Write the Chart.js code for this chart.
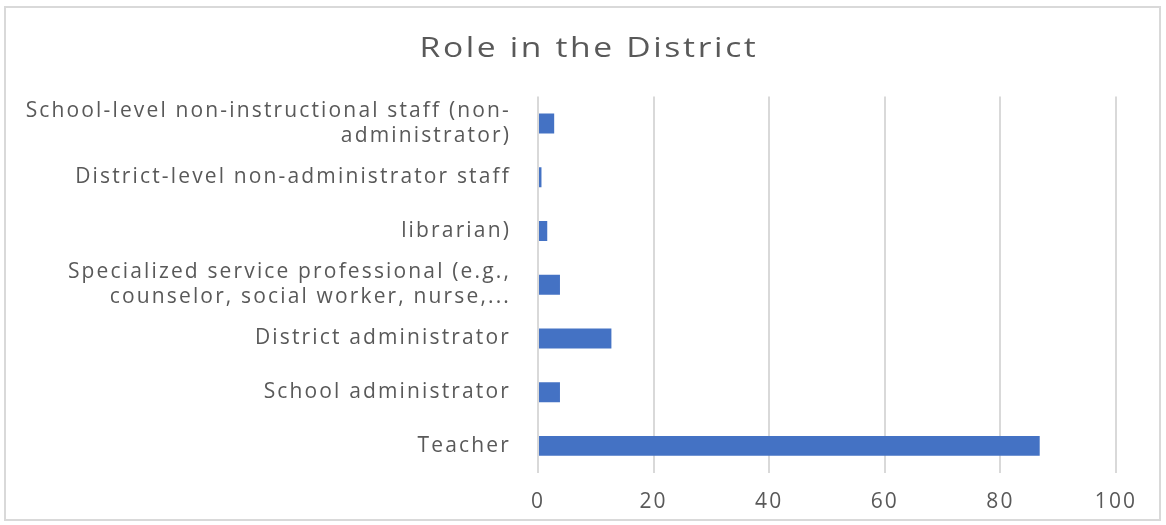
<!DOCTYPE html>
<html>
<head>
<meta charset="utf-8">
<script src="https://cdn.jsdelivr.net/npm/chart.js@4.4.0/dist/chart.umd.min.js"></script>
<style>
  html, body { margin: 0; padding: 0; background: #fff; }
  #wrap { width: 1166px; height: 525px; position: relative; }
</style>
</head>
<body>
<div id="wrap"><canvas id="chart" width="1166" height="525"></canvas></div>
<script>
// categories, top to bottom as shown
const roles = [
  ['School-level non-instructional staff (non-', 'administrator)'],
  'District-level non-administrator staff',
  'librarian)',
  ['Specialized service professional (e.g.,', 'counselor, social worker, nurse,...'],
  'District administrator',
  'School administrator',
  'Teacher'
];
const counts = [2.8, 0.6, 1.6, 3.8, 12.7, 3.8, 86.8];
const xTicks = [0, 20, 40, 60, 80, 100];

const textGrey = '#595959';
const fontFamily = '"Open Sans", "DejaVu Sans", sans-serif';

// the original Excel text is set wide: space the letters, stretch the title
const spacingPlugin = {
  id: 'spacing',
  beforeUpdate(chart) { chart.ctx.letterSpacing = '2.15px'; },
  beforeDraw(chart) {
    chart.ctx.letterSpacing = '2.15px';
    const tb = chart.titleBlock;
    if (tb && !tb._wide) {
      const orig = tb.draw.bind(tb);
      tb.draw = function () {
        const c = this.ctx;
        const mid = (this.left + this.right) / 2;
        c.save();
        c.letterSpacing = '2.2px';
        c.translate(mid + 26, 0);
        c.scale(1.2, 1);
        c.translate(-mid, 0);
        orig();
        c.restore();
      };
      tb._wide = true;
    }
  }
};

// light grey frame around the chart
const framePlugin = {
  id: 'frame',
  afterDraw(chart) {
    const ctx = chart.ctx;
    ctx.save();
    ctx.strokeStyle = '#d9d9d9';
    ctx.lineWidth = 2;
    ctx.strokeRect(5, 7, 1155, 513);
    ctx.restore();
  }
};

new Chart(document.getElementById('chart'), {
  type: 'bar',
  data: {
    labels: roles,
    datasets: [{
      data: counts,
      backgroundColor: '#4472C4',
      borderWidth: 0,
      categoryPercentage: 1,
      barPercentage: 0.37
    }]
  },
  options: {
    indexAxis: 'y',
    responsive: false,
    animation: false,
    layout: { padding: { left: 10, right: 50, top: 12, bottom: -8 } },
    plugins: {
      legend: { display: false },
      tooltip: { enabled: false },
      title: {
        display: true,
        text: 'Role in the District',
        color: textGrey,
        font: { family: fontFamily, size: 28, weight: 'normal' },
        padding: { top: 20, bottom: 31 }
      }
    },
    scales: {
      x: {
        min: 0,
        max: 100,
        afterBuildTicks: (axis) => { axis.ticks = xTicks.map(v => ({ value: v })); },
        grid: { color: '#d9d9d9', lineWidth: 2, drawTicks: false },
        border: { display: false },
        ticks: {
          color: textGrey,
          font: { family: fontFamily, size: 21 },
          padding: 17
        }
      },
      y: {
        grid: { display: false, drawTicks: false },
        border: { display: false },
        afterFit: (scale) => { scale.width = 528; },
        ticks: {
          color: textGrey,
          font: { family: fontFamily, size: 21, lineHeight: 1.2 },
          padding: 27
        }
      }
    }
  },
  plugins: [spacingPlugin, framePlugin]
});
</script>
</body>
</html>
